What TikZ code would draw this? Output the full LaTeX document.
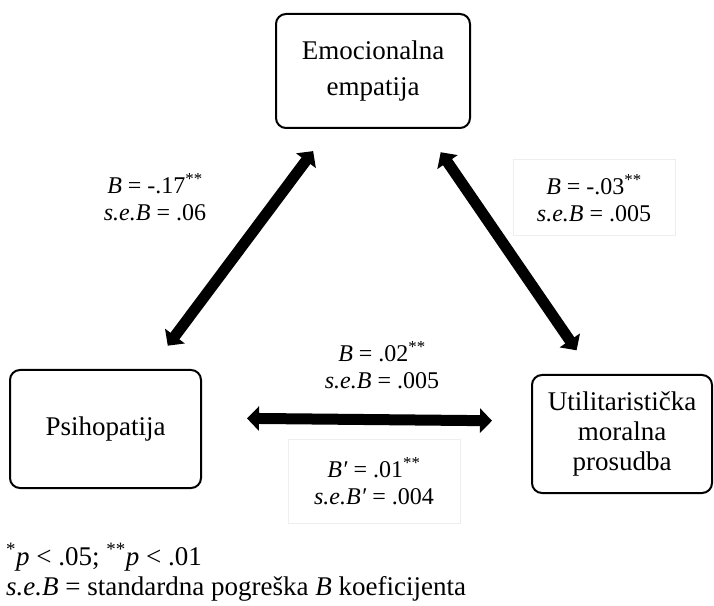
\documentclass[tikz,border=0pt]{standalone}
\usepackage{fontspec}
\setmainfont{Liberation Serif}
\usetikzlibrary{arrows.meta,calc}
\definecolor{faint}{RGB}{238,238,238}
\begin{document}
\begin{tikzpicture}[x=1pt,y=1pt,
  var/.style={draw, line width=2pt, rounded corners=10pt, align=center, inner sep=0pt,
    font=\fontsize{27}{30}\selectfont},
  lab/.style={align=center, inner sep=0pt, font=\fontsize{24}{27}\selectfont},
  labbox/.style={draw=faint, line width=1pt},
  link/.style={line width=11pt,
    {Triangle[width=24pt,length=12pt]}-{Triangle[width=24pt,length=12pt]}},
  note/.style={anchor=base west, inner sep=0pt, font=\fontsize{27}{30}\selectfont}]
\useasboundingbox (0,0) rectangle (714,605);
% variables
\node[var, minimum width=194pt, minimum height=114pt] (emp) at (373,534)
  {Emocionalna\\[6pt]empatija};
\node[var, minimum width=191pt, minimum height=118pt] (psi) at (105.5,176)
  {Psihopatija};
\node[var, minimum width=180pt, minimum height=118pt] (util) at (622,171)
  {Utilitaristička\\moralna\\prosudba};
% links
\draw[link, shorten <=100pt, shorten >=104pt] (emp.center) -- (psi.center);
\draw[link, shorten <=98.5pt, shorten >=101.5pt]
  ($(emp.center)+(12,0)$) -- ($(util.center)+(12,0)$);
\draw[link, shorten <=141.5pt, shorten >=130pt]
  ($(psi.center)+(0,12)$) -- ($(util.center)+(0,12)$);
% labels
\node[lab] (l1) at (155,408) {\textit{B} = -.17\textsuperscript{**}\\\textit{s.e.B} = .06};
\node[lab, labbox, minimum width=162pt, minimum height=76pt] (l2) at (594,407)
  {\textit{B} = -.03\textsuperscript{**}\\\textit{s.e.B} = .005};
\node[lab] (l3) at (382,240) {\textit{B} = .02\textsuperscript{**}\\\textit{s.e.B} = .005};
\node[lab, labbox, minimum width=172pt, minimum height=83pt] (l4) at (374,123.5)
  {\textit{B′} = .01\textsuperscript{**}\\\textit{s.e.B′} = .004};
% footnote
\node[note] (n1) at (6,40) {\textsuperscript{*}\textit{p} < .05; \textsuperscript{**}\textit{p} < .01};
\node[note] (n2) at (6,10) {\textit{s.e.B} = standardna pogreška \textit{B} koeficijenta};
\end{tikzpicture}
\end{document}
